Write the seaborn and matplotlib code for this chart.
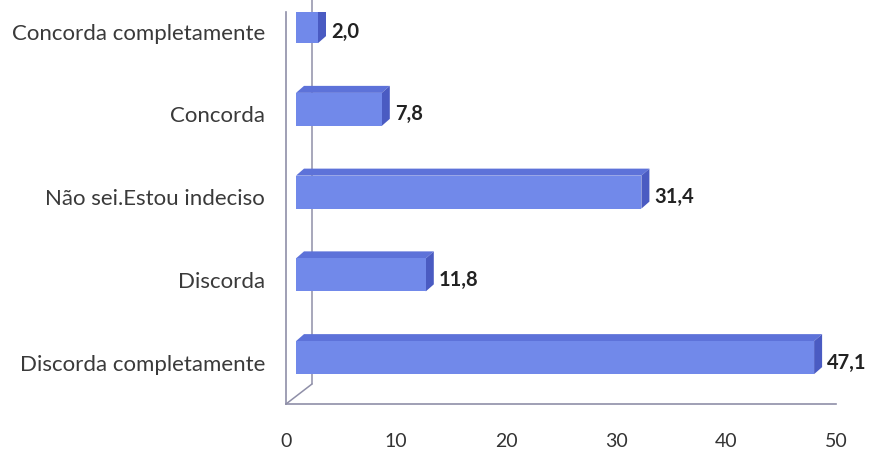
import matplotlib
matplotlib.use("Agg")
import matplotlib.pyplot as plt
from matplotlib.patches import Polygon
import seaborn as sns
import pandas as pd

categories = ["Concorda completamente", "Concorda", "Não sei.Estou indeciso",
              "Discorda", "Discorda completamente"]
values = [2.0, 7.8, 31.4, 11.8, 47.1]
value_labels = ["2,0", "7,8", "31,4", "11,8", "47,1"]
xticks = [0, 10, 20, 30, 40, 50]

sns.set_theme(style="white")
plt.rcParams['font.family'] = ['Lato', 'DejaVu Sans']

W, H = 871, 458
fig = plt.figure(figsize=(W / 100, H / 100), dpi=100)
fig.patch.set_facecolor("white")

# floor-front coordinate frame (pixels)
x0px, x1px = 286, 836
ybot, ytop = 404, 12
ax = fig.add_axes([x0px / W, (H - ybot) / H, (x1px - x0px) / W, (ybot - ytop) / H])
ax.set_facecolor("white")

px_x = (x1px - x0px) / 50.0          # pixels per x unit
px_y = 82.75                          # pixels per category
ylim = (4.5, 4.5 - (ybot - ytop) / px_y)

front_col = "#7189ea"
top_col = "#5d72d9"
side_col = "#4a5bc2"
line_col = "#8f8fa8"

df = pd.DataFrame({"cat": categories, "val": values})
bar_h = 33 / px_y
sns.barplot(data=df, x="val", y="cat", orient="h", order=categories,
            color=front_col, saturation=1, width=bar_h, ax=ax, zorder=3)
ax.set_ylim(*ylim)
ax.set_xlim(0, 50)

shift_x = 10 / px_x
shift_y = 5 / px_y
dx = 8 / px_x
dy = 7 / px_y
for p, lab in zip(ax.patches, value_labels):
    p.set_x(p.get_x() + shift_x)
    p.set_y(p.get_y() - shift_y)
    p.set_edgecolor("none")
    xa = p.get_x()
    xb = xa + p.get_width()
    yt = p.get_y()
    yb = yt + p.get_height()
    top = Polygon([(xa, yt), (xb, yt), (xb + dx, yt - dy), (xa + dx, yt - dy)],
                  closed=True, facecolor=top_col, edgecolor="none", zorder=2)
    side = Polygon([(xb, yt), (xb + dx, yt - dy), (xb + dx, yb - dy), (xb, yb)],
                   closed=True, facecolor=side_col, edgecolor="none", zorder=2)
    ax.add_patch(top)
    ax.add_patch(side)
    yc = (yt + yb) / 2 + 5 / px_y
    ax.text(xb + dx + 5 / px_x, yc, lab, ha="left", va="center",
            fontsize=14.5, fontweight="bold", color="#222222", clip_on=False)

# back wall edge and floor diagonal
bx = 26 / px_x
by = 4.5 - 20 / px_y
ax.plot([0, bx], [4.5, by], color=line_col, lw=1.1, clip_on=False, zorder=1)
ax.plot([bx, bx], [by, -1.0], color=line_col, lw=1.1, clip_on=False, zorder=1)

for s in ["top", "right"]:
    ax.spines[s].set_visible(False)
for s in ["left", "bottom"]:
    ax.spines[s].set_color(line_col)
    ax.spines[s].set_linewidth(1.2)

ax.set_xticks(xticks)
ax.set_xticklabels([str(t) for t in xticks])
ax.tick_params(axis="x", direction="out", length=5, width=1, color=line_col,
               pad=16, labelsize=14, labelcolor="#333333")
ax.set_yticks(range(len(categories)))
ax.set_yticklabels(categories)
ax.tick_params(axis="y", which="major", length=0, pad=15, labelsize=16,
               labelcolor="#3a3a3a")
ax.set_yticks([0.5, 1.5, 2.5, 3.5], minor=True)
ax.tick_params(axis="y", which="minor", direction="out", length=4.5, width=1,
               color=line_col)
ax.set_xlabel("")
ax.set_ylabel("")

fig.savefig("out.png", dpi=100, facecolor="white")
